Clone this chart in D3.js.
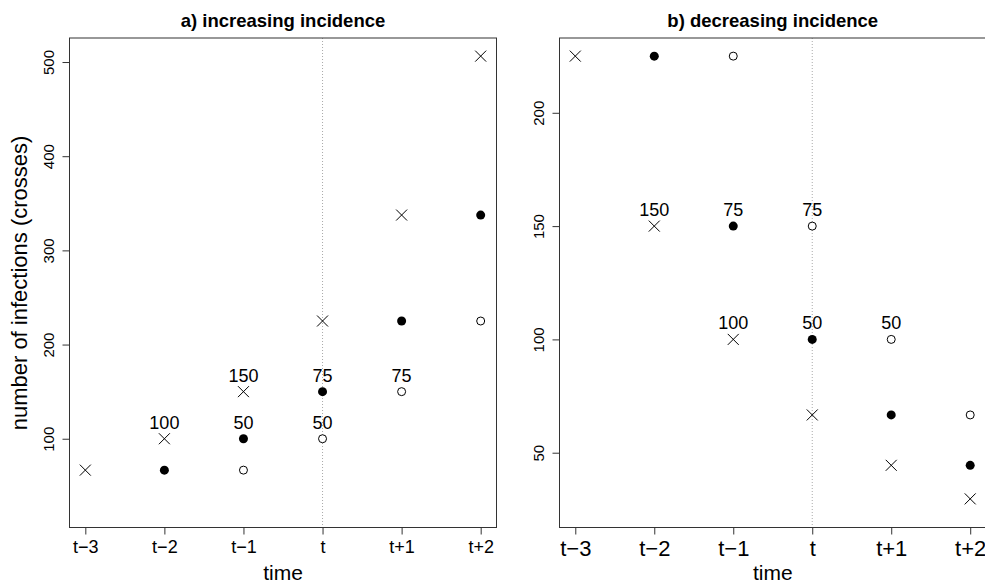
<!DOCTYPE html>
<html>
<head>
<meta charset="utf-8">
<script src="https://cdn.jsdelivr.net/npm/d3@7"></script>
<style>
body { margin: 0; background: #fff; }
text { font-family: "Liberation Sans", Arial, sans-serif; fill: #000; }
</style>
</head>
<body>
<script>
// time points and their labels
var times = [-3, -2, -1, 0, 1, 2];
var timeLabels = ["t\u22123", "t\u22122", "t\u22121", "t", "t+1", "t+2"];

// a) increasing incidence
var incCrosses = [66.67, 100, 150, 225, 337.5, 506.25];
var incFilledTimes = [-2, -1, 0, 1, 2];
var incFilled = [66.67, 100, 150, 225, 337.5];
var incOpenTimes = [-1, 0, 1, 2];
var incOpen = [66.67, 100, 150, 225];
var incLabelTimes = [-2, -1, -1, 0, 0, 1];
var incLabelValues = [100, 150, 100, 150, 100, 150];
var incLabelTexts = ["100", "150", "50", "75", "50", "75"];
var incTicks = [100, 200, 300, 400, 500];

// b) decreasing incidence
var decCrosses = [225, 150, 100, 66.67, 44.44, 29.63];
var decFilledTimes = [-2, -1, 0, 1, 2];
var decFilled = [225, 150, 100, 66.67, 44.44];
var decOpenTimes = [-1, 0, 1, 2];
var decOpen = [225, 150, 100, 66.67];
var decLabelTimes = [-2, -1, 0, -1, 0, 1];
var decLabelValues = [150, 150, 150, 100, 100, 100];
var decLabelTexts = ["150", "75", "75", "100", "50", "50"];
var decTicks = [50, 100, 150, 200];

var width = 985
var height = 585

var svg = d3.select("body")
	.append("svg")
	.attr("width", width)
	.attr("height", height);

// R style axis extension of 4%
function extend(lo, hi) {
	var d = (hi - lo) * 0.04;
	return [lo - d, hi + d];
}

function drawPanel(opt) {
	var top = 38, bottom = 527.5;
	var x = d3.scaleLinear().domain(extend(-3, 2)).range([opt.left, opt.right]);
	var y = d3.scaleLinear().domain(extend(25, opt.ymax)).range([bottom, top]);
	var g = svg.append("g");

	// dotted line at t
	g.append("line")
		.attr("x1", x(0)).attr("x2", x(0))
		.attr("y1", top).attr("y2", bottom)
		.attr("stroke", "#aaa")
		.attr("stroke-width", 1)
		.attr("stroke-dasharray", "1,2");

	// box
	g.append("rect")
		.attr("x", opt.left).attr("y", top)
		.attr("width", opt.right - opt.left)
		.attr("height", bottom - top)
		.attr("fill", "none")
		.attr("stroke", "#333")
		.attr("stroke-width", 1);

	// x axis
	var xAxis = d3.axisBottom(x)
		.tickValues(times)
		.tickSize(7)
		.tickPadding(6)
		.tickFormat(function(d, i) { return timeLabels[i]; });
	var xa = g.append("g")
		.attr("transform", "translate(0," + bottom + ")")
		.call(xAxis);
	xa.select(".domain").remove();
	xa.selectAll("line").attr("stroke", "#333");
	xa.selectAll("text")
		.style("font-size", opt.xFont + "px")
		.attr("fill", "#000");

	// y axis
	var yAxis = d3.axisLeft(y)
		.tickValues(opt.ticks)
		.tickSize(7)
		.tickFormat(d3.format("d"));
	var ya = g.append("g")
		.attr("transform", "translate(" + opt.left + ",0)")
		.call(yAxis);
	ya.select(".domain").remove();
	ya.selectAll("line").attr("stroke", "#333");
	ya.selectAll("text")
		.attr("x", null).attr("dy", null)
		.attr("transform", "translate(-16,0) rotate(-90)")
		.attr("text-anchor", "middle")
		.style("font-size", "15px")
		.attr("fill", "#000");

	// crosses
	g.selectAll("path.cross")
		.data(opt.crosses)
		.enter()
		.append("path")
		.attr("class", "cross")
		.attr("d", function(d, i) {
			var cx = x(times[i]), cy = y(d), s = 5.5;
			return "M" + (cx - s) + "," + (cy - s) + "L" + (cx + s) + "," + (cy + s) +
				"M" + (cx - s) + "," + (cy + s) + "L" + (cx + s) + "," + (cy - s);
		})
		.attr("stroke", "#000")
		.attr("stroke-width", 1)
		.attr("fill", "none");

	// filled circles
	g.selectAll("circle.filled")
		.data(opt.filled)
		.enter()
		.append("circle")
		.attr("class", "filled")
		.attr("r", 4.5)
		.attr("cx", function(d, i) { return x(opt.filledTimes[i]); })
		.attr("cy", function(d) { return y(d); })
		.style("fill", "#000");

	// open circles
	g.selectAll("circle.open")
		.data(opt.open)
		.enter()
		.append("circle")
		.attr("class", "open")
		.attr("r", 4)
		.attr("cx", function(d, i) { return x(opt.openTimes[i]); })
		.attr("cy", function(d) { return y(d); })
		.style("fill", "#fff")
		.attr("stroke", "#000")
		.attr("stroke-width", 1);

	// numbers above points
	g.selectAll("text.lab")
		.data(opt.labelTexts)
		.enter()
		.append("text")
		.attr("class", "lab")
		.attr("x", function(d, i) { return x(opt.labelTimes[i]); })
		.attr("y", function(d, i) { return y(opt.labelValues[i]) - 10; })
		.attr("text-anchor", "middle")
		.style("font-size", "18px")
		.text(function(d) { return d; });

	// title
	g.append("text")
		.attr("x", (opt.left + opt.right) / 2)
		.attr("y", 27)
		.attr("text-anchor", "middle")
		.style("font-size", "18.5px")
		.style("font-weight", "bold")
		.text(opt.title);

	// x title
	g.append("text")
		.attr("x", (opt.left + opt.right) / 2)
		.attr("y", 580)
		.attr("text-anchor", "middle")
		.style("font-size", "21px")
		.text("time");
}

drawPanel({
	left: 69.5, right: 496.5, ymax: 506.25,
	crosses: incCrosses,
	filled: incFilled, filledTimes: incFilledTimes,
	open: incOpen, openTimes: incOpenTimes,
	labelTimes: incLabelTimes, labelValues: incLabelValues, labelTexts: incLabelTexts,
	ticks: incTicks, xFont: 18,
	title: "a) increasing incidence"
});

drawPanel({
	left: 559.5, right: 986, ymax: 225,
	crosses: decCrosses,
	filled: decFilled, filledTimes: decFilledTimes,
	open: decOpen, openTimes: decOpenTimes,
	labelTimes: decLabelTimes, labelValues: decLabelValues, labelTexts: decLabelTexts,
	ticks: decTicks, xFont: 22,
	title: "b) decreasing incidence"
});

// y axis title for the left panel
svg.append("text")
	.attr("transform", "translate(27,283) rotate(-90)")
	.attr("text-anchor", "middle")
	.style("font-size", "22px")
	.text("number of infections (crosses)");
</script>
</body>
</html>
